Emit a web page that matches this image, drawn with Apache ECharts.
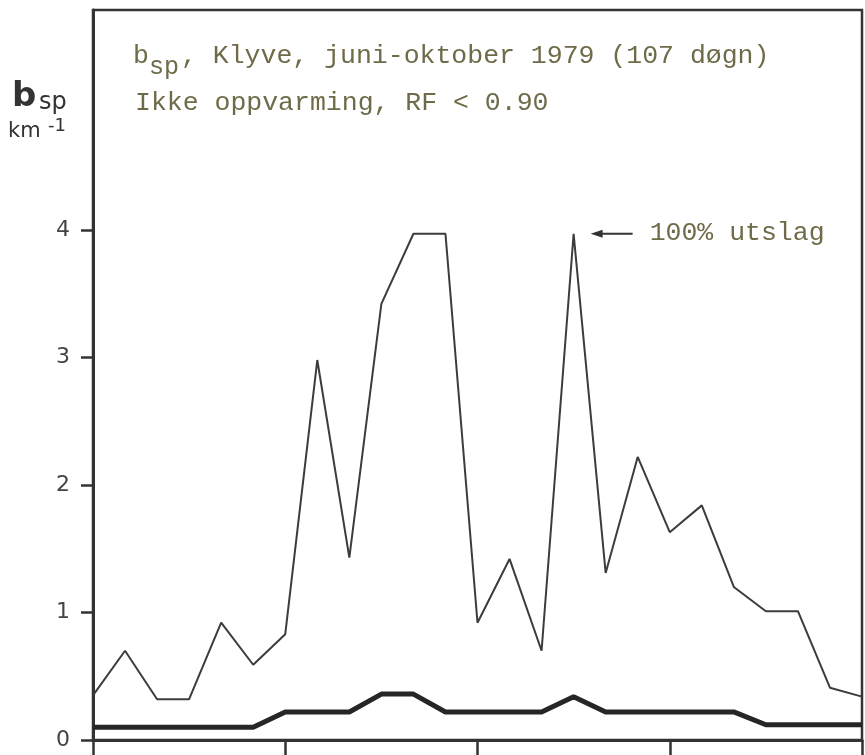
<!DOCTYPE html>
<html>
<head>
<meta charset="utf-8">
<script src="https://cdn.jsdelivr.net/npm/echarts@6/dist/echarts.min.js"></script>
<style>
  html, body { margin: 0; padding: 0; background: #fff; }
  #chart { width: 865px; height: 755px; }
</style>
</head>
<body>
<div id="chart"></div>
<script>
// Sample index along the period (25 points, split into 4 blocks of 6)
const sampleIndex = [0,1,2,3,4,5,6,7,8,9,10,11,12,13,14,15,16,17,18,19,20,21,22,23,24];
// b_sp, km^-1 (thin curve)
const bspValues = [0.35, 0.70, 0.32, 0.32, 0.92, 0.59, 0.83, 2.98, 1.43, 3.42, 3.97, 3.97, 0.92,
                   1.42, 0.70, 3.97, 1.31, 2.22, 1.63, 1.84, 1.20, 1.01, 1.01, 0.41, 0.34];
// lower reference curve (thick)
const baseValues = [0.10, 0.10, 0.10, 0.10, 0.10, 0.10, 0.22, 0.22, 0.22, 0.36, 0.36, 0.22, 0.22,
                    0.22, 0.22, 0.34, 0.22, 0.22, 0.22, 0.22, 0.22, 0.12, 0.12, 0.12, 0.12];
const yTicks = [0, 1, 2, 3, 4];
const xTicks = [0, 6, 12, 18, 24];
const peakIndex = 15; // point marked "100% utslag"

const ink = '#333';
const textInk = '#6f6a48';
const mono = "'Liberation Mono', 'DejaVu Sans Mono', monospace";
const sans = "'DejaVu Sans', 'Noto Sans', sans-serif";

const chart = echarts.init(document.getElementById('chart'), null, { renderer: 'canvas' });

chart.setOption({
  animation: false,
  backgroundColor: '#fff',
  grid: {
    left: 93, right: 3, top: 10, bottom: 15,
    show: true, borderColor: ink, borderWidth: 2.5, backgroundColor: '#fff'
  },
  xAxis: {
    type: 'value', min: 0, max: 24, interval: 6,
    axisLine: { show: true, onZero: false, lineStyle: { color: ink, width: 3 } },
    axisTick: { show: true, inside: false, length: 20, lineStyle: { color: ink, width: 2.5 }, customValues: xTicks },
    axisLabel: { show: false },
    splitLine: { show: false }
  },
  yAxis: {
    type: 'value', min: 0, max: 5.725, interval: 1,
    axisLine: { show: true, lineStyle: { color: ink, width: 3 } },
    axisTick: { show: true, inside: false, length: 12, lineStyle: { color: ink, width: 2.5 }, customValues: yTicks },
    axisLabel: { show: true, margin: 23, fontFamily: sans, fontSize: 22, color: '#444', customValues: yTicks },
    splitLine: { show: false }
  },
  series: [
    {
      type: 'line', symbol: 'none', z: 3,
      lineStyle: { color: '#3c3c3c', width: 2 },
      data: sampleIndex.map((x, i) => [x, bspValues[i]])
    },
    {
      type: 'line', symbol: 'none', z: 4,
      lineStyle: { color: '#262626', width: 5 },
      data: sampleIndex.map((x, i) => [x, baseValues[i]])
    }
  ]
});

// Annotations: heading, axis name and the arrow pointing at the saturated peak
const peak = chart.convertToPixel({ gridIndex: 0 }, [sampleIndex[peakIndex], bspValues[peakIndex]]);
const tipX = peak[0] + 17, tipY = peak[1];

chart.setOption({
  graphic: [
    { type: 'text', style: { x: 133, y: 42, text: 'b', font: '26.5px ' + mono, fill: textInk } },
    { type: 'text', style: { x: 149, y: 55, text: 'sp', font: '25px ' + mono, fill: textInk } },
    { type: 'text', style: { x: 181, y: 42, text: ', Klyve, juni-oktober 1979 (107 døgn)', font: '26.5px ' + mono, fill: textInk } },
    { type: 'text', style: { x: 135, y: 89, text: 'Ikke oppvarming, RF < 0.90', font: '26.5px ' + mono, fill: textInk } },

    { type: 'text', style: { x: 12, y: 80, text: 'b', font: 'bold 34px ' + sans, fill: ink } },
    { type: 'text', style: { x: 39, y: 91, text: 'sp', font: '24px ' + sans, fill: ink } },
    { type: 'text', style: { x: 8, y: 121, text: 'km', font: '21px ' + sans, fill: ink } },
    { type: 'text', style: { x: 48, y: 117, text: '-1', font: '18px ' + sans, fill: ink } },

    { type: 'line', shape: { x1: tipX + 8, y1: tipY, x2: tipX + 42, y2: tipY }, style: { stroke: ink, lineWidth: 2 } },
    { type: 'polygon', shape: { points: [[tipX, tipY], [tipX + 12, tipY - 4], [tipX + 12, tipY + 4]] }, style: { fill: ink } },
    { type: 'text', style: { x: tipX + 59, y: tipY - 14, text: '100% utslag', font: '26.5px ' + mono, fill: textInk } }
  ]
});
</script>
</body>
</html>
